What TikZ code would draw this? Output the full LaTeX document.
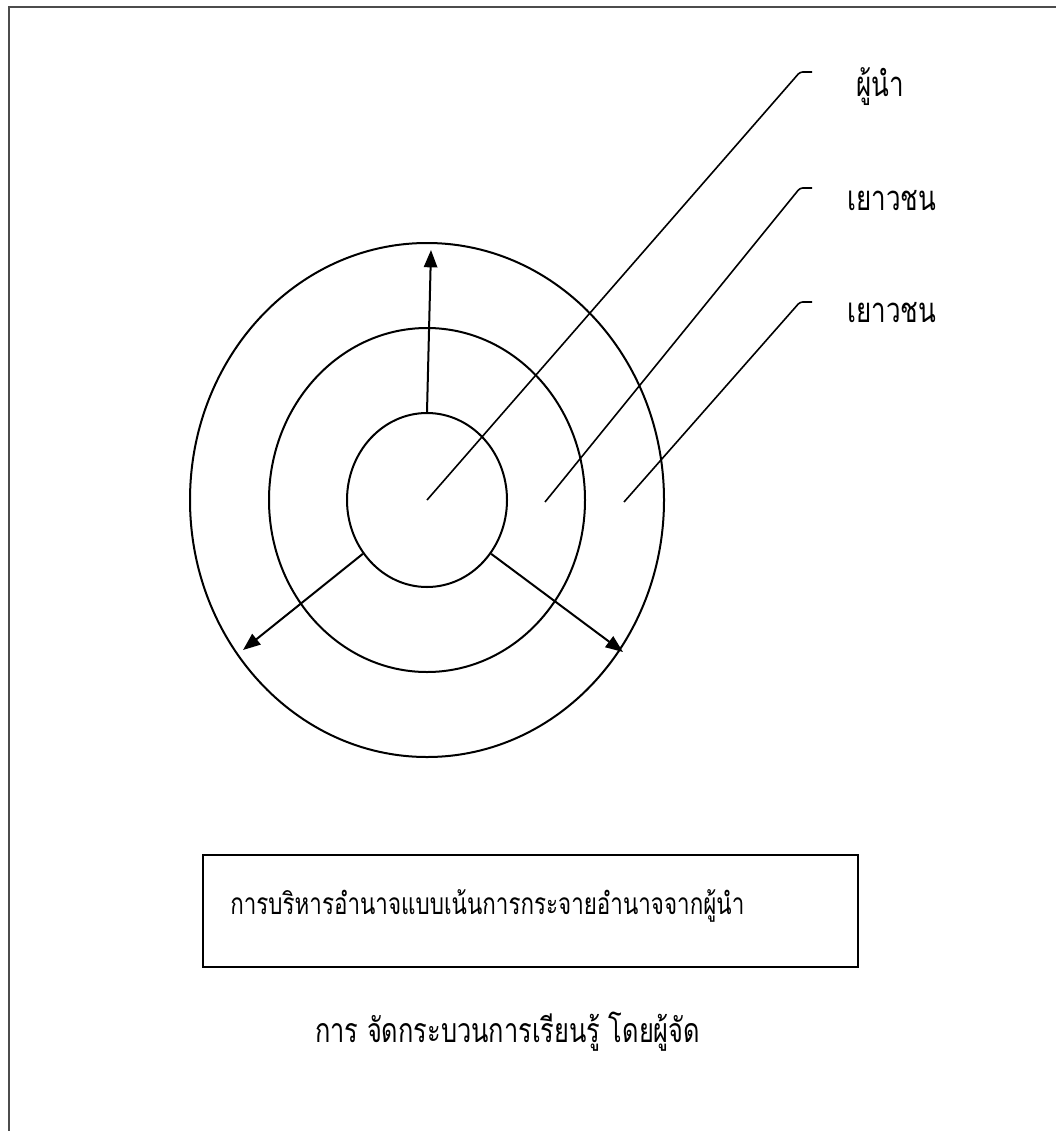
\documentclass[tikz,border=0pt]{standalone}
\usepackage{fontspec}
\newfontfamily\thaifont[Script=Thai,FakeStretch=0.75]{Loma}
\usetikzlibrary{arrows.meta,shapes.geometric}
\begin{document}
\begin{tikzpicture}[x=0.75pt,y=-0.75pt,
  ring/.style={draw, ellipse, line width=1.5pt, inner sep=0pt},
  spoke/.style={line width=1.5pt, -{Triangle[length=13pt,width=10pt]}},
  pointer/.style={line width=1.2pt, rounded corners=2pt},
  lbl/.style={font=\thaifont\fontsize{26}{30}\selectfont, anchor=base west, inner sep=0pt},
  boxtxt/.style={font=\thaifont\fontsize{22.4}{26}\selectfont, anchor=base west, inner sep=0pt},
  captxt/.style={font=\thaifont\fontsize{25.4}{29}\selectfont, anchor=base west, inner sep=0pt},
  frame/.style={line width=2pt, black!70}
  ]
\useasboundingbox (0,0) rectangle (1056,1131);
% page frame (top and left edges only)
\coordinate (fb) at (9,1131);
\coordinate (fc) at (9,7);
\coordinate (fr) at (1056,7);
\draw[frame] (fb) -- (fc) -- (fr);

% rings
\coordinate (c) at (427,500);
\node[ring, minimum width=355.5pt, minimum height=385.5pt] (outer) at (c) {};
\node[ring, minimum width=237pt, minimum height=258pt] (middle) at (c) {};
\node[ring, minimum width=120pt, minimum height=130.5pt] (inner) at (c) {};

% spokes
\coordinate (tipU) at (431,250);
\coordinate (tipL) at (243,650);
\coordinate (tipR) at (623,652);
\draw[spoke] (inner.north) -- (tipU);
\draw[spoke] (inner.220) -- (tipL);
\draw[spoke] (inner.320) -- (tipR);

% pointer lines
\coordinate (p1) at (427,500);
\coordinate (p2) at (545,502);
\coordinate (p3) at (624,502);
\coordinate (t1) at (800,72);
\coordinate (t2) at (800,188);
\coordinate (t3) at (800,302);
\coordinate (e1) at (812,72);
\coordinate (e2) at (812,188);
\coordinate (e3) at (812,302);
\draw[pointer] (p1) -- (t1) -- (e1);
\draw[pointer] (p2) -- (t2) -- (e2);
\draw[pointer] (p3) -- (t3) -- (e3);

% labels
\node[lbl] (leader) at (856,96) {ผู้นำ};
\begin{scope}
\clip (820,150) rectangle (940,360);
\node[lbl] (youth1) at (847,210) {เยาวชน};
\node[lbl] (youth2) at (847,322) {เยาวชน};
\end{scope}

% box
\node[draw, line width=1.5pt, minimum width=491pt, minimum height=84pt, inner sep=0pt] (box) at (530.5,911) {};
\node[boxtxt] (boxtext) at (230,914) {การบริหารอำนาจแบบเน้นการกระจายอำนาจจากผู้นำ};

% caption
\node[captxt] (caption) at (315,1042) {การ จัดกระบวนการเรียนรู้ โดยผู้จัด};
\end{tikzpicture}
\end{document}
